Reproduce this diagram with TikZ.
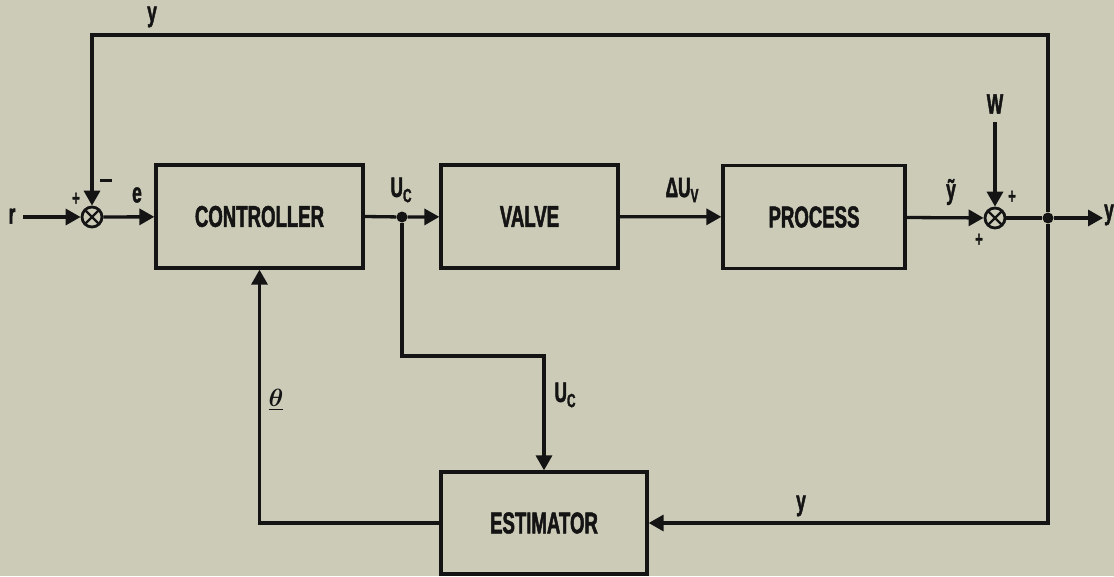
\documentclass[tikz,border=0pt]{standalone}
\usepackage{fontspec}
\usepackage{amsmath,bm}
\usepackage{tikz}
\usetikzlibrary{arrows.meta,positioning,calc}
\newfontfamily\blockfont{Liberation Sans}[FakeStretch=0.62,FakeBold=1.6]
\definecolor{paper}{HTML}{CCCBB8}
\definecolor{ink}{HTML}{141414}
\tikzset{
  >={Triangle[length=15pt,width=16pt]},
  block/.style={draw=ink,line width=3.3pt,minimum height=103pt,text=ink,
    font=\blockfont\bfseries\fontsize{30}{32}\selectfont},
  summer/.style={circle,draw=ink,line width=2.8pt,minimum size=20pt,inner sep=0pt,
    path picture={\draw[ink,line width=2.2pt]
      (path picture bounding box.north west) -- (path picture bounding box.south east)
      (path picture bounding box.north east) -- (path picture bounding box.south west);}},
  junc/.style={circle,fill=ink,minimum size=11pt,inner sep=0pt},
  wire/.style={line width=3.3pt,draw=ink},
  flow/.style={->,line width=3.3pt,draw=ink},
  lbl/.style={text=ink,inner sep=0pt,font=\blockfont\bfseries\fontsize{28}{30}\selectfont},
  sgn/.style={text=ink,inner sep=0pt,font=\blockfont\bfseries\fontsize{21}{21}\selectfont},
}
\newcommand{\subC}{\raisebox{-.35ex}{\fontsize{19}{19}\selectfont C}}

\begin{document}
\begin{tikzpicture}[x=1pt,y=-1pt]
  \fill[paper] (0,0) rectangle (1114,576);
  \useasboundingbox (0,0) rectangle (1114,576);

  % blocks
  \node[block,minimum width=207pt] (ctrl) at (259.5,216.5) {CONTROLLER};
  \node[block,minimum width=177pt] (valve) at (529.5,216.5) {VALVE};
  \node[block,minimum width=182pt] (proc) at (814,217) {PROCESS};
  \node[block,minimum width=206pt,minimum height=102pt] (est) at (544,523) {ESTIMATOR};

  % summing points and branch points
  \node[summer] (s1) at (92,217) {};
  \node[summer] (s2) at (995,218) {};
  \node[junc] (ucdot) at (402,217) {};
  \node[junc] (ydot) at (1048,218) {};

  \coordinate (rin) at (23,217);
  \coordinate (yout) at (1103,218);
  \coordinate (wtop) at (995,122);
  \coordinate (ytop) at (92,35);
  \coordinate (ucturn) at (402,356);

  % forward path
  \draw[flow] (rin) -- (s1);
  \draw[flow] (s1) -- (ctrl);
  \draw[wire] (ctrl.east) -- (ucdot);
  \draw[flow] (ucdot) -- (valve);
  \draw[flow] (valve) -- (proc);
  \draw[flow] (proc) -- (s2);
  \draw[wire] (s2) -- (ydot);
  \draw[flow] (ydot) -- (yout);
  \draw[flow] (wtop) -- (s2);

  % feedback and estimator loop
  \draw[flow] (ydot) |- (ytop) -- (s1);
  \draw[flow] (ydot) |- (est.east);
  \draw[flow] (ucdot) -- (ucturn) -| (est.north);
  \draw[flow] (est.west) -| (ctrl.south);

  % labels
  \node[lbl] (lr) at (12,216) {r};
  \node[lbl] (le) at (137,195) {e};
  \node[sgn] (p1) at (76,199) {+};
  \node[fill=ink,minimum width=12pt,minimum height=3pt,inner sep=0pt] (m1) at (106,180) {};
  \node[lbl] (lytop) at (152,17) {y};
  \node[lbl] (luc) at (401,190) {U\subC};
  \node[lbl] (ldu) at (682,190) {ΔU\raisebox{-.35ex}{\fontsize{19}{19}\selectfont V}};
  \node[lbl] (lyt) at (951,192) {\~{y}};
  \node[lbl] (lw) at (995,104) {W};
  \node[sgn] (p2) at (1012,197) {+};
  \node[sgn] (p3) at (979,240) {+};
  \node[lbl] (lyout) at (1109,215) {y};
  \node[lbl] (luc2) at (565,395) {U\subC};
  \node[text=ink,inner sep=0pt,font=\fontsize{26}{28}\selectfont] (lth) at (276,400) {$\underline{\bm{\theta}}$};
  \node[lbl] (lybot) at (801,506) {y};
\end{tikzpicture}
\end{document}
